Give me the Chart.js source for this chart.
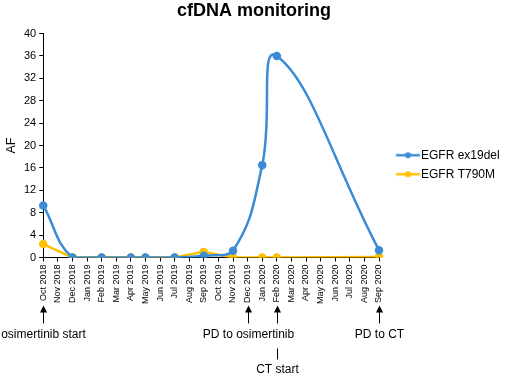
<!DOCTYPE html>
<html>
<head>
<meta charset="utf-8">
<script src="https://cdn.jsdelivr.net/npm/chart.js@4.4.0/dist/chart.umd.min.js"></script>
<style>
  html, body { margin: 0; padding: 0; background: #fff; }
  #wrap { width: 510px; height: 376px; }
</style>
</head>
<body>
<div id="wrap"><canvas id="ChartAF"></canvas></div>
<script>
// months on x axis
const months = [
    'Oct 2018', 'Nov 2018', 'Dec 2018', 'Jan 2019', 'Feb 2019', 'Mar 2019',
    'Apr 2019', 'May 2019', 'Jun 2019', 'Jul 2019', 'Aug 2019', 'Sep 2019',
    'Oct 2019', 'Nov 2019', 'Dec 2019', 'Jan 2020', 'Feb 2020', 'Mar 2020',
    'Apr 2020', 'May 2020', 'Jun 2020', 'Jul 2020', 'Aug 2020', 'Sep 2020'
];

// AF values (null = no sample that month)
const ex19del = [9.3, null, 0, null, 0, null, 0, 0, null, 0, null, 0.3,
    null, 1.2, null, 16.5, 36.0, null, null, null, null, null, null, 1.3];
const t790m = [2.4, null, 0, null, 0, null, 0, 0, null, 0, null, 1.0,
    null, 0, null, 0, 0, null, null, null, null, null, null, 0.1];

const yTicks = [0, 4, 8, 12, 16, 20, 24, 28, 32, 36, 40];

// notes under the x axis
const noteMonths = ['Oct 2018', 'Dec 2019', 'Feb 2020', 'Sep 2020'];
const noteTexts = ['osimertinib start', 'PD to osimertinib', 'CT start', 'PD to CT'];

const BLUE = '#3b8bd6';
const YELLOW = '#ffc000';
const FONT = '"Liberation Sans", Arial, sans-serif';

// legend sample: line with a dot (drawn off-centre so it sits close to the text)
function legendIcon(color) {
    const c = document.createElement('canvas');
    c.width = 48; c.height = 8;
    const g = c.getContext('2d');
    g.strokeStyle = color;
    g.lineWidth = 2.5;
    g.beginPath(); g.moveTo(19.5, 4); g.lineTo(43.5, 4); g.stroke();
    g.fillStyle = color;
    g.beginPath(); g.arc(31.5, 4, 3, 0, Math.PI * 2); g.fill();
    return c;
}

function drawArrow(ctx, px, tip, tail) {
    ctx.beginPath();
    ctx.moveTo(px, tail);
    ctx.lineTo(px, tip + 2);
    ctx.stroke();
    ctx.beginPath();
    ctx.moveTo(px, tip);
    ctx.lineTo(px - 3.5, tip + 7);
    ctx.lineTo(px + 3.5, tip + 7);
    ctx.closePath();
    ctx.fill();
}

const notesPlugin = {
    id: 'notes',
    afterDraw(chart) {
        const ctx = chart.ctx;
        const x = chart.scales.x;
        const base = chart.chartArea.bottom;
        ctx.save();
        ctx.strokeStyle = '#000';
        ctx.fillStyle = '#000';
        ctx.lineWidth = 1;
        ctx.font = '12px ' + FONT;
        ctx.textAlign = 'center';
        ctx.textBaseline = 'middle';
        noteMonths.forEach((m, i) => {
            const px = Math.round(x.getPixelForValue(months.indexOf(m))) + 0.5;
            const text = noteTexts[i];
            drawArrow(ctx, px, base + 48, base + 66);
            if (text === 'CT start') {
                // hangs lower, under the other labels
                ctx.beginPath(); ctx.moveTo(px, base + 91); ctx.lineTo(px, base + 102); ctx.stroke();
                ctx.fillText(text, px, base + 112);
            } else {
                ctx.fillText(text, px, base + 77);
            }
        });
        ctx.restore();
    }
};

const ctx1 = document.getElementById('ChartAF').getContext('2d');

const chartAF = new Chart(ctx1, {
    type: 'line',
    data: {
        labels: months,
        datasets: [
            {
                label: 'EGFR ex19del',
                data: ex19del,
                borderColor: BLUE,
                backgroundColor: BLUE,
                pointRadius: 3,
                borderWidth: 2.5,
                tension: 0.45,
                spanGaps: true
            },
            {
                label: 'EGFR T790M',
                data: t790m,
                borderColor: YELLOW,
                backgroundColor: YELLOW,
                pointRadius: 3,
                borderWidth: 2.5,
                tension: 0,
                spanGaps: true
            }
        ]
    },
    options: {
        responsive: true,
        maintainAspectRatio: false,
        animation: false,
        layout: {
            padding: { left: 4, right: 6, top: 0, bottom: 69 }
        },
        plugins: {
            title: {
                display: true,
                text: 'cfDNA monitoring',
                color: '#000',
                font: { family: FONT, size: 18, weight: 'bold' },
                padding: { top: 0, bottom: 12 }
            },
            legend: {
                display: true,
                position: 'right',
                title: { display: true, text: '', padding: { top: 0, bottom: 8 } },
                labels: {
                    color: '#000',
                    font: { family: FONT, size: 12 },
                    usePointStyle: true,
                    pointStyleWidth: 29,
                    padding: 7,
                    generateLabels(chart) {
                        return chart.data.datasets.map((ds, i) => ({
                            text: ds.label,
                            fillStyle: ds.borderColor,
                            strokeStyle: ds.borderColor,
                            fontColor: '#000',
                            pointStyle: legendIcon(ds.borderColor),
                            lineWidth: 0,
                            datasetIndex: i
                        }));
                    }
                }
            },
            tooltip: { enabled: false }
        },
        scales: {
            x: {
                offset: false,
                grid: { display: true, drawOnChartArea: false, color: '#000', tickLength: 4 },
                border: { color: '#000', width: 1 },
                ticks: {
                    color: '#000',
                    font: { family: FONT, size: 9 },
                    minRotation: 90,
                    maxRotation: 90,
                    autoSkip: false,
                    padding: 3
                }
            },
            y: {
                min: 0,
                max: 40,
                afterBuildTicks(axis) {
                    axis.ticks = yTicks.map(v => ({ value: v }));
                },
                grid: { display: true, drawOnChartArea: false, color: '#000', tickLength: 4 },
                border: { color: '#000', width: 1 },
                ticks: {
                    color: '#000',
                    font: { family: FONT, size: 11 },
                    padding: 3
                },
                title: {
                    display: true,
                    text: 'AF',
                    color: '#000',
                    font: { family: FONT, size: 12.5 },
                    padding: { top: 0, bottom: 2 }
                }
            }
        }
    },
    plugins: [notesPlugin]
});
</script>
</body>
</html>
